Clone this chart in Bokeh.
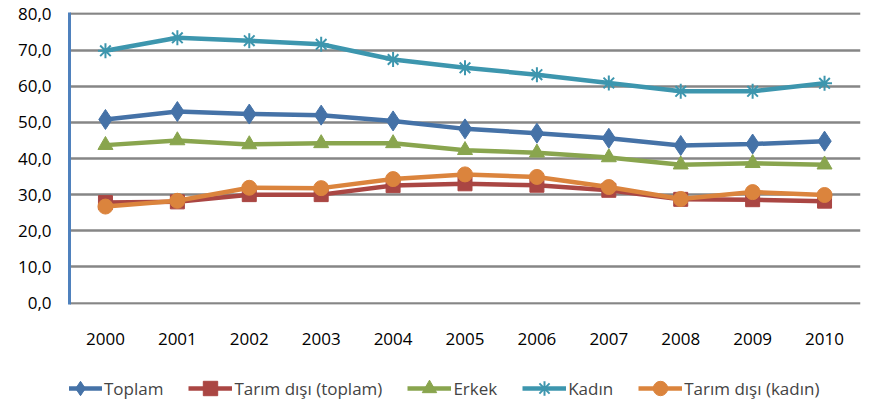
from bokeh.plotting import figure
from bokeh.layouts import column
from bokeh.models import (ColumnDataSource, FactorRange, Range1d, Legend, LegendItem,
                          CustomJSTickFormatter, FixedTicker)
from bokeh.embed import file_html
from bokeh.resources import INLINE

years = ["2000", "2001", "2002", "2003", "2004", "2005", "2006", "2007", "2008", "2009", "2010"]
toplam = [50.8, 53.0, 52.3, 52.0, 50.4, 48.2, 47.0, 45.6, 43.6, 44.0, 44.8]
tarim_disi_toplam = [27.8, 28.0, 30.0, 30.0, 32.5, 33.0, 32.6, 31.2, 28.7, 28.6, 28.2]
erkek = [43.7, 45.0, 43.9, 44.2, 44.2, 42.3, 41.6, 40.3, 38.3, 38.7, 38.3]
kadin = [69.8, 73.4, 72.6, 71.6, 67.4, 65.1, 63.2, 60.9, 58.6, 58.6, 60.8]
tarim_disi_kadin = [26.7, 28.3, 31.9, 31.8, 34.3, 35.6, 34.9, 32.1, 28.8, 30.7, 29.9]
y_ticks = [0, 10, 20, 30, 40, 50, 60, 70, 80]

series = [
    ("Toplam", toplam, "#4572A7", "diamond", 20),
    ("Tarım dışı (toplam)", tarim_disi_toplam, "#AA4643", "square", 14),
    ("Erkek", erkek, "#89A54E", "triangle", 15),
    ("Kadın", kadin, "#3D96AE", "asterisk", 15),
    ("Tarım dışı (kadın)", tarim_disi_kadin, "#DB843D", "circle", 15),
]

FONT = "Open Sans"
W = 866

p = figure(width=W, height=350, x_range=FactorRange(*years), y_range=Range1d(-0.4, 80.4),
           output_backend="svg", toolbar_location=None,
           min_border_left=69, min_border_top=12, min_border_right=W - 860,
           min_border_bottom=46)
p.outline_line_color = None
p.background_fill_color = "white"

p.xgrid.grid_line_color = None
p.ygrid.grid_line_color = "#868686"
p.ygrid.grid_line_width = 2.5
p.yaxis.ticker = FixedTicker(ticks=y_ticks)
p.ygrid.ticker = FixedTicker(ticks=y_ticks)
p.yaxis.formatter = CustomJSTickFormatter(code="return tick.toFixed(1).replace('.', ',');")
p.yaxis.axis_line_color = "#4F81BD"
p.yaxis.axis_line_width = 3
p.yaxis.major_tick_line_color = None
p.yaxis.minor_tick_line_color = None
p.yaxis.major_label_text_font = FONT
p.yaxis.major_label_text_font_size = "17px"
p.yaxis.major_label_text_color = "#000000"
p.yaxis.major_label_standoff = 12

p.xaxis.axis_line_color = None
p.xaxis.major_tick_line_color = None
p.xaxis.minor_tick_line_color = None
p.xaxis.major_label_text_font = FONT
p.xaxis.major_label_text_font_size = "17px"
p.xaxis.major_label_text_color = "#000000"
p.xaxis.major_label_standoff = 22

# legend lives in its own strip below the chart (series drawn there out of view)
lg = figure(width=W, height=59, output_backend="svg", toolbar_location=None,
            x_range=FactorRange(*years), y_range=Range1d(-200, -190),
            min_border_left=0, min_border_right=0, min_border_top=0, min_border_bottom=0)
lg.axis.visible = False
lg.grid.visible = False
lg.outline_line_color = None

items = []
for name, vals, color, marker, size in series:
    src = ColumnDataSource(dict(x=years, y=vals))
    rs = []
    for fig in (p, lg):
        r1 = fig.line("x", "y", source=src, line_color=color, line_width=4.5)
        if marker == "asterisk":
            r2 = fig.scatter("x", "y", source=src, marker=marker, size=size,
                             line_color=color, line_width=2)
        else:
            r2 = fig.scatter("x", "y", source=src, marker=marker, size=size,
                             fill_color=color, line_color=color)
        rs = [r1, r2]
    items.append(LegendItem(label=name, renderers=rs))

legend = Legend(items=items, orientation="horizontal", location=(-11, 3),
                label_text_font=FONT, label_text_font_size="17px",
                glyph_width=44, glyph_height=36, label_standoff=2, spacing=25,
                border_line_color=None, background_fill_alpha=0, margin=0, padding=0)
lg.add_layout(legend)

open("out.html", "w").write(file_html(column(p, lg, spacing=0), INLINE))
